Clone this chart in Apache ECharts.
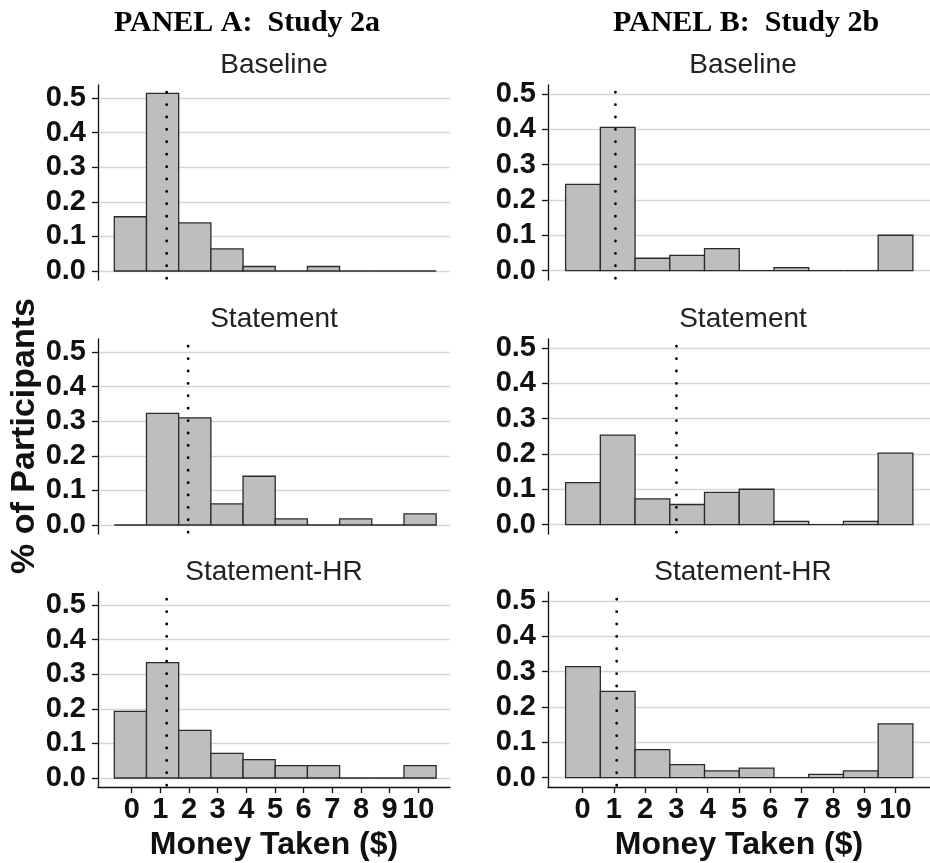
<!DOCTYPE html>
<html>
<head>
<meta charset="utf-8">
<script src="https://cdn.jsdelivr.net/npm/echarts@6/dist/echarts.min.js"></script>
<style>
  html, body { margin: 0; padding: 0; background: #fff; }
  #chart { width: 930px; height: 863px; }
</style>
</head>
<body>
<div id="chart"></div>
<script>
// tick labels
const moneyTicks = [0, 1, 2, 3, 4, 5, 6, 7, 8, 9, 10];
const shareTicks = [0, 0.1, 0.2, 0.3, 0.4, 0.5];

const conditions = ['Baseline', 'Statement', 'Statement-HR'];
const panelTitles = ['PANEL A:  Study 2a', 'PANEL B:  Study 2b'];

// share of participants per histogram bin (10 bins over $0-$10)
const study2aBaseline = [0.157, 0.514, 0.139, 0.064, 0.013, 0, 0.013, 0, 0, 0];
const study2aStatement = [0, 0.323, 0.310, 0.061, 0.141, 0.018, 0, 0.018, 0, 0.032];
const study2aStatementHR = [0.193, 0.334, 0.138, 0.071, 0.053, 0.036, 0.036, 0, 0, 0.036];

const study2bBaseline = [0.244, 0.405, 0.035, 0.043, 0.062, 0, 0.0085, 0, 0, 0.100];
const study2bStatement = [0.119, 0.253, 0.073, 0.057, 0.091, 0.100, 0.0094, 0, 0.0094, 0.202];
const study2bStatementHR = [0.314, 0.244, 0.079, 0.037, 0.019, 0.027, 0, 0.0094, 0.019, 0.152];

// dotted reference lines (money taken, $)
const study2aRef = [1.22, 1.97, 1.22];
const study2bRef = [1.05, 3.0, 1.09];

// histogram bin edges: first edge and bin width, in $
const study2aBins = [-0.607, 1.123];
const study2bBins = [-0.542, 1.110];

// ---- layout ----
const rowTop = [85, 339, 592];
const panelH = 195;
const colLeft = [98, 548];
const colW = [352, 390];
const xRange = [[-1.176, 11.106], [-1.105, 11.105]];
const yRange = [[-0.026, 0.538], [-0.0265, 0.525]];

const sans = '"Liberation Sans", Arial, sans-serif';
const ink = '#111';

const columns = [
  { values: [study2aBaseline, study2aStatement, study2aStatementHR], ref: study2aRef, bins: study2aBins },
  { values: [study2bBaseline, study2bStatement, study2bStatementHR], ref: study2bRef, bins: study2bBins }
];

const grids = [], xAxes = [], yAxes = [], series = [], texts = [];

columns.forEach((col, c) => {
  const cx = colLeft[c] + colW[c] / 2;
  texts.push({
    type: 'text', x: (c === 0 ? 247 : 746), y: 23,
    style: { text: panelTitles[c], font: 'bold 30px "Liberation Serif", "Times New Roman", serif', fill: '#000', align: 'center', verticalAlign: 'middle' }
  });

  for (let r = 0; r < 3; r++) {
    const k = c * 3 + r;
    const bottom = r === 2;
    grids.push({ left: colLeft[c], top: rowTop[r], width: colW[c], height: panelH });

    xAxes.push({
      gridIndex: k, type: 'value', min: xRange[c][0], max: xRange[c][1],
      axisLine: { show: bottom, onZero: false, lineStyle: { color: ink, width: 1.3 } },
      axisTick: { show: bottom, customValues: moneyTicks, length: 6, lineStyle: { color: ink, width: 1.3 } },
      axisLabel: { show: bottom, customValues: moneyTicks, fontSize: 29, fontWeight: 'bold', fontFamily: sans, color: ink, margin: 8 },
      splitLine: { show: false },
      name: bottom ? 'Money Taken ($)' : '',
      nameLocation: 'middle', nameGap: 42,
      nameTextStyle: { fontSize: 32, fontWeight: 'bold', fontFamily: sans, color: ink }
    });

    yAxes.push({
      gridIndex: k, type: 'value', min: yRange[c][0], max: yRange[c][1],
      axisLine: { show: true, onZero: false, lineStyle: { color: ink, width: 1.3 } },
      axisTick: { show: true, customValues: shareTicks, length: 6, lineStyle: { color: ink, width: 1.3 } },
      axisLabel: { customValues: shareTicks, formatter: v => v.toFixed(1), fontSize: 29, fontWeight: 'bold', fontFamily: sans, color: ink, margin: 12 },
      splitLine: { show: true, lineStyle: { color: '#d6d6d6', width: 1.3 } }
    });

    const binStart = col.bins[0], binW = col.bins[1];
    series.push({
      type: 'custom', xAxisIndex: k, yAxisIndex: k, z: 2, silent: true,
      data: col.values[r].map((v, i) => [i, v]),
      renderItem: function (params, api) {
        const i = api.value(0);
        const v = api.value(1);
        const x0 = binStart + i * binW;
        const p0 = api.coord([x0, v]);
        const p1 = api.coord([x0 + binW, 0]);
        return {
          type: 'rect',
          shape: { x: p0[0], y: p0[1], width: p1[0] - p0[0], height: p1[1] - p0[1] },
          style: { fill: '#bebebe', stroke: '#2a2a2a', lineWidth: 1.3 }
        };
      }
    });

    series.push({
      type: 'line', xAxisIndex: k, yAxisIndex: k, z: 3, silent: true,
      symbol: 'none',
      data: [[col.ref[r], yRange[c][0] + 0.005], [col.ref[r], yRange[c][1] - 0.02]],
      lineStyle: { color: '#000', width: 2.8, type: [0.1, 12.3], cap: 'round' }
    });

    texts.push({
      type: 'text', x: cx, y: rowTop[r] - 20,
      style: { text: conditions[r], font: '28px ' + sans, fill: '#222', align: 'center', verticalAlign: 'middle' }
    });
  }
});

texts.push({
  type: 'text', x: 25, y: 436, rotation: Math.PI / 2,
  style: { text: '% of Participants', font: 'bold 34px ' + sans, fill: ink, align: 'center', verticalAlign: 'middle' }
});

const chart = echarts.init(document.getElementById('chart'));
chart.setOption({
  animation: false,
  backgroundColor: '#fff',
  grid: grids,
  xAxis: xAxes,
  yAxis: yAxes,
  series: series,
  graphic: texts
});
</script>
</body>
</html>
